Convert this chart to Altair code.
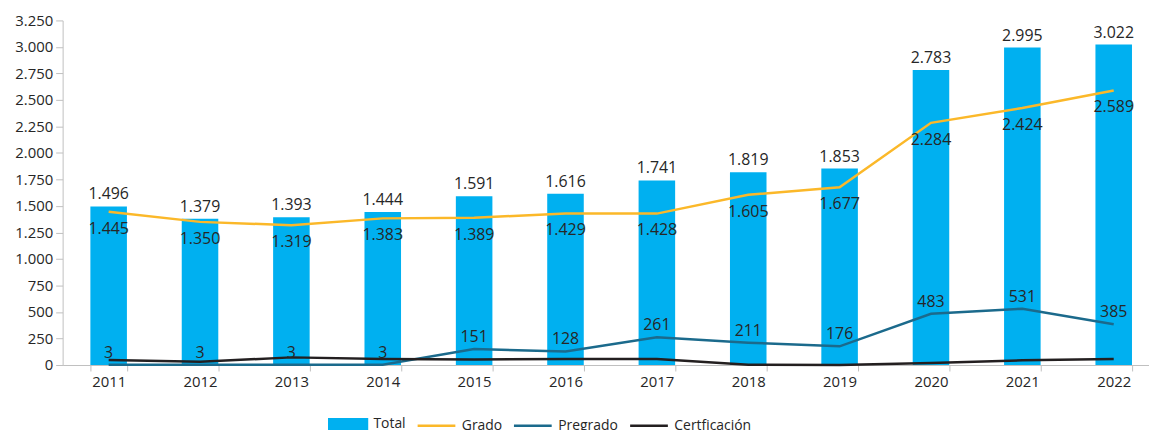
import altair as alt
import pandas as pd

years = ["2011", "2012", "2013", "2014", "2015", "2016", "2017", "2018", "2019", "2020", "2021", "2022"]
total = [1496, 1379, 1393, 1444, 1591, 1616, 1741, 1819, 1853, 2783, 2995, 3022]
grado = [1445, 1350, 1319, 1383, 1389, 1429, 1428, 1605, 1677, 2284, 2424, 2589]
pregrado = [3, 3, 3, 3, 151, 128, 261, 211, 176, 483, 531, 385]
certificacion = [47, 31, 72, 56, 53, 56, 56, 3, 1, 19, 44, 56]

series_names = ["Total", "Grado", "Pregrado", "Certficación"]
series_colors = ["#00B0F0", "#FBB829", "#1B6A8C", "#231F20"]

rows = []
for name, vals in zip(series_names, [total, grado, pregrado, certificacion]):
    for y, v in zip(years, vals):
        rows.append({"year": y, "serie": name, "value": v})
df = pd.DataFrame(rows)

FONT = "Open Sans"
TXT = "#262626"

fmt = "replace(format(datum.value, ','), ',', '.')"

x = alt.X("year:N", title=None,
          scale=alt.Scale(paddingInner=0.6, paddingOuter=0.245, align=0.62),
          axis=alt.Axis(labelAngle=0, tickBand="extent", tickSize=6, labelPadding=4,
                        domainColor="#BFBFBF", tickColor="#BFBFBF", labelColor=TXT,
                        labelFontSize=15, labelFont=FONT, grid=False))
y = alt.Y("value:Q", title=None,
          scale=alt.Scale(domain=[0, 3250], nice=False),
          axis=alt.Axis(values=list(range(0, 3251, 250)), labelExpr=fmt, tickSize=7,
                        labelPadding=3, domainColor="#BFBFBF", tickColor="#BFBFBF",
                        labelColor=TXT, labelFontSize=15, labelFont=FONT, grid=False,
                        minExtent=50))

color = alt.Color("serie:N",
                  scale=alt.Scale(domain=series_names, range=series_colors),
                  sort=series_names,
                  legend=alt.Legend(
                      title=None, orient="none", direction="horizontal",
                      legendX=267, legendY=386,
                      symbolSize=1444,
                      symbolType=alt.ExprRef(expr="datum.value == 'Total' ? 'M-1,-0.27H1V0.27H-1Z' : 'stroke'"),
                      symbolStrokeColor=alt.ExprRef(expr="scale('color', datum.value)"),
                      symbolFillColor=alt.ExprRef(expr="scale('color', datum.value)"),
                      symbolStrokeWidth=2.5, symbolOpacity=1,
                      labelFontSize=14, labelFont=FONT, labelColor=TXT,
                      labelOffset=5, columnPadding=6, padding=0))

base = alt.Chart(df)

bars = base.transform_filter("datum.serie == 'Total'").mark_bar(opacity=1).encode(
    x=x, y=y, color=color)

lines = base.transform_filter("datum.serie != 'Total'").mark_line(strokeWidth=2.5).encode(
    x=x, y=y, color=color)

lab_total = base.transform_filter("datum.serie == 'Total'").transform_calculate(
    lab=fmt).mark_text(font=FONT, fontSize=16, color=TXT, baseline="middle", dy=-12).encode(
    x=x, y=y, text="lab:N")

lab_grado = base.transform_filter("datum.serie == 'Grado'").transform_calculate(
    lab=fmt).mark_text(font=FONT, fontSize=16, color=TXT, baseline="middle", dy=17).encode(
    x=x, y=y, text="lab:N")

lab_pre = base.transform_filter("datum.serie == 'Pregrado'").transform_calculate(
    lab=fmt).mark_text(font=FONT, fontSize=16, color=TXT, baseline="middle", dy=-12).encode(
    x=x, y=y, text="lab:N")

chart = alt.layer(bars, lines, lab_total, lab_grado, lab_pre).properties(
    width=1094, height=347,
    padding={"left": 5, "top": 4, "right": 0, "bottom": 5},
    background="white"
).configure_view(stroke=None)

chart.save("out.html", embed_options={"renderer": "svg", "actions": False})
